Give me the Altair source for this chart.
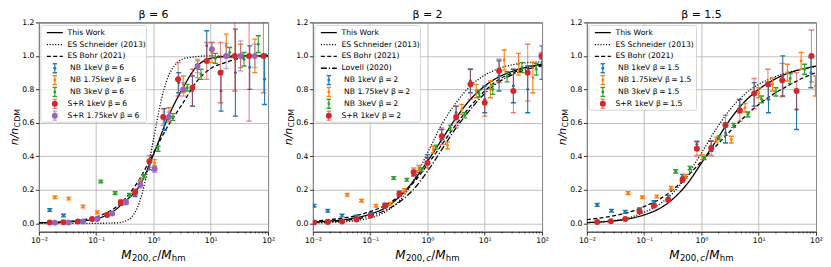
import altair as alt
import pandas as pd

FONT = "DejaVu Sans"
W, H = 230, 210

panel_titles = ["β = 6", "β = 2", "β = 1.5"]
panel_betas = ["6", "2", "1.5"]

curve_names = ["This Work", "ES Schneider (2013)", "ES Bohr (2021)", "Lovell (2020)"]
curve_dashes = [[1, 0], [1.1, 1.7], [4, 2.4], [6, 2, 1.2, 2]]

series_names = ["NB 1keV", "NB 1.75keV", "NB 3keV", "S+R 1keV", "S+R 1.75keV"]
series_colors = ["#1f77b4", "#ff7f0e", "#2ca02c", "#d62728", "#9467bd"]

x_ticks = [0.01, 0.1, 1, 10, 100]
x_tick_labels = ["10⁻²", "10⁻¹", "10⁰", "10¹", "10²"]
minor_mult = [2, 3, 4, 5, 6, 7, 8, 9]
minor_decades = [-2, -1, 0, 1]
y_ticks = [0.0, 0.2, 0.4, 0.6, 0.8, 1.0, 1.2]

# ---------------- model curves (log10 M/Mhm, n/nCDM) ----------------
curve_logx = [-2, -1.75, -1.5, -1.25, -1, -0.75, -0.5, -0.25, 0, 0.25, 0.5, 0.75, 1, 1.25, 1.5, 1.75, 2]

b6_this = [0.003, 0.005, 0.008, 0.014, 0.027, 0.06, 0.13, 0.22, 0.41, 0.63, 0.80, 0.935, 0.985, 0.996, 0.999, 1.0, 1.0]
b6_schn_logx = [-2, -1, -0.75, -0.625, -0.5, -0.375, -0.25, -0.125, 0, 0.125, 0.25, 0.375, 0.5, 0.625, 0.75, 1, 1.5, 2]
b6_schn = [0.0, 0.0, 0.001, 0.003, 0.012, 0.04, 0.12, 0.28, 0.50, 0.72, 0.87, 0.945, 0.98, 0.99, 0.996, 1.0, 1.0, 1.0]
b6_bohr = [0.003, 0.006, 0.011, 0.02, 0.038, 0.075, 0.145, 0.26, 0.42, 0.58, 0.71, 0.845, 0.925, 0.96, 0.985, 0.995, 1.0]

b2_this = [0.007, 0.012, 0.02, 0.033, 0.055, 0.09, 0.155, 0.25, 0.37, 0.50, 0.63, 0.74, 0.82, 0.875, 0.91, 0.935, 0.95]
b2_schn = [0.002, 0.004, 0.008, 0.016, 0.032, 0.065, 0.13, 0.25, 0.42, 0.59, 0.72, 0.82, 0.885, 0.925, 0.948, 0.96, 0.965]
b2_bohr = [0.012, 0.02, 0.03, 0.045, 0.07, 0.105, 0.16, 0.24, 0.35, 0.47, 0.59, 0.70, 0.79, 0.86, 0.90, 0.93, 0.945]
b2_lov = [0.005, 0.009, 0.015, 0.025, 0.045, 0.075, 0.125, 0.20, 0.31, 0.44, 0.57, 0.68, 0.775, 0.845, 0.89, 0.92, 0.94]

b15_this = [0.004, 0.008, 0.015, 0.028, 0.05, 0.085, 0.145, 0.235, 0.36, 0.49, 0.62, 0.725, 0.80, 0.855, 0.895, 0.92, 0.94]
b15_schn = [0.004, 0.009, 0.018, 0.035, 0.065, 0.11, 0.18, 0.285, 0.42, 0.56, 0.68, 0.77, 0.83, 0.87, 0.90, 0.92, 0.935]
b15_bohr = [0.022, 0.032, 0.047, 0.068, 0.10, 0.14, 0.20, 0.28, 0.37, 0.46, 0.55, 0.635, 0.71, 0.77, 0.82, 0.865, 0.90]

# ---------------- simulation data: log10 x, value, error ----------------
b6_nb1_x = [-1.81, -1.57, -1.32, -1.07, -0.81, -0.57, -0.32, -0.07, 0.19, 0.44, 0.68, 0.93, 1.18, 1.43, 1.68, 1.94]
b6_nb1_y = [0.079, 0.046, 0.012, 0.022, 0.05, 0.12, 0.175, 0.35, 0.62, 0.84, 0.79, 1.06, 0.79, 0.90, 0.93, 0.86]
b6_nb1_e = [0.008, 0.008, 0.005, 0.006, 0.008, 0.012, 0.015, 0.03, 0.065, 0.06, 0.09, 0.09, 0.12, 0.26, 0.13, 0.15]
b6_nb175_x = [-1.72, -1.48, -1.23, -0.98, -0.73, -0.48, -0.23, 0.02, 0.27, 0.52, 0.77, 1.02, 1.27, 1.52, 1.77]
b6_nb175_y = [0.155, 0.148, 0.10, 0.065, 0.06, 0.13, 0.245, 0.36, 0.65, 0.83, 0.92, 1.02, 1.06, 1.0, 1.0]
b6_nb175_e = [0.008, 0.008, 0.008, 0.008, 0.008, 0.01, 0.015, 0.02, 0.04, 0.05, 0.05, 0.06, 0.07, 0.07, 0.1]
b6_nb3_x = [-0.92, -0.67, -0.42, -0.17, 0.08, 0.34, 0.59, 0.83, 1.08, 1.33, 1.58, 1.83]
b6_nb3_y = [0.25, 0.18, 0.17, 0.28, 0.445, 0.635, 0.81, 0.89, 0.985, 1.02, 0.98, 1.07]
b6_nb3_e = [0.008, 0.008, 0.008, 0.01, 0.015, 0.02, 0.02, 0.03, 0.03, 0.03, 0.04, 0.05]
b6_sr1_x = [-1.81, -1.57, -1.32, -1.07, -0.81, -0.57, -0.32, -0.07, 0.17, 0.43, 0.68, 0.93, 1.17, 1.42, 1.67, 1.92]
b6_sr1_y = [0.005, 0.006, 0.01, 0.025, 0.05, 0.125, 0.185, 0.37, 0.635, 0.86, 0.81, 0.97, 0.90, 1.0, 1.0, 1.0]
b6_sr1_e = [0.003, 0.003, 0.004, 0.006, 0.008, 0.015, 0.02, 0.035, 0.05, 0.1, 0.11, 0.11, 0.18, 0.21, 0.39, 0.22]
b6_sr175_x = [-1.72, -1.48, -1.23, -0.98, -0.72, -0.48, -0.23, 0.02, 0.27, 0.52, 0.77, 1.02, 1.27, 1.52, 1.77]
b6_sr175_y = [0.003, 0.005, 0.01, 0.025, 0.058, 0.125, 0.23, 0.325, 0.635, 0.80, 0.94, 1.04, 1.0, 1.0, 1.0]
b6_sr175_e = [0.002, 0.002, 0.003, 0.005, 0.008, 0.015, 0.02, 0.02, 0.03, 0.04, 0.04, 0.04, 0.075, 0.09, 0.07]

b2_nb1_x = [-1.98, -1.74, -1.49, -1.24, -0.99, -0.74, -0.49, -0.24, 0.0, 0.25, 0.5, 0.75, 1.0, 1.25, 1.5, 1.75, 2.0]
b2_nb1_y = [0.105, 0.075, 0.046, 0.04, 0.055, 0.11, 0.18, 0.30, 0.39, 0.53, 0.66, 0.85, 0.74, 0.88, 0.82, 0.80, 0.96]
b2_nb1_e = [0.008, 0.008, 0.008, 0.008, 0.008, 0.01, 0.012, 0.015, 0.02, 0.03, 0.04, 0.07, 0.08, 0.09, 0.1, 0.14, 0.1]
b2_nb175_x = [-1.40, -1.15, -0.90, -0.65, -0.40, -0.15, 0.10, 0.35, 0.60, 0.85, 1.10, 1.34, 1.59, 1.84]
b2_nb175_y = [0.17, 0.135, 0.105, 0.117, 0.196, 0.33, 0.44, 0.465, 0.68, 0.79, 0.80, 0.975, 0.95, 0.87]
b2_nb175_e = [0.008, 0.008, 0.008, 0.008, 0.01, 0.015, 0.02, 0.02, 0.03, 0.04, 0.05, 0.06, 0.065, 0.09]
b2_nb3_x = [-0.59, -0.36, -0.10, 0.15, 0.40, 0.65, 0.90, 1.14, 1.39, 1.65, 1.90]
b2_nb3_y = [0.27, 0.26, 0.32, 0.455, 0.57, 0.645, 0.775, 0.80, 0.875, 0.93, 0.92]
b2_nb3_e = [0.008, 0.008, 0.01, 0.012, 0.015, 0.015, 0.02, 0.03, 0.03, 0.03, 0.035]
b2_sr1_x = [-1.98, -1.74, -1.49, -1.24, -0.99, -0.74, -0.49, -0.24, 0.0, 0.25, 0.5, 0.75, 1.0, 1.25, 1.5, 1.75, 1.99]
b2_sr1_y = [0.005, 0.008, 0.01, 0.022, 0.047, 0.105, 0.175, 0.305, 0.36, 0.52, 0.635, 0.83, 0.72, 0.91, 0.79, 0.90, 1.0]
b2_sr1_e = [0.003, 0.003, 0.004, 0.005, 0.008, 0.012, 0.015, 0.025, 0.03, 0.05, 0.065, 0.09, 0.08, 0.07, 0.13, 0.17, 0.02]

b15_nb1_x = [-1.82, -1.57, -1.33, -1.08, -0.83, -0.58, -0.33, -0.08, 0.17, 0.42, 0.67, 0.92, 1.17, 1.42, 1.66, 1.91]
b15_nb1_y = [0.11, 0.075, 0.068, 0.083, 0.125, 0.155, 0.28, 0.47, 0.46, 0.54, 0.70, 0.77, 0.74, 0.88, 0.68, 0.90]
b15_nb1_e = [0.008, 0.008, 0.008, 0.008, 0.01, 0.012, 0.012, 0.02, 0.03, 0.06, 0.04, 0.07, 0.08, 0.12, 0.12, 0.09]
b15_nb175_x = [-1.28, -1.03, -0.78, -0.53, -0.28, 0.02, 0.26, 0.52, 0.76, 1.0, 1.24, 1.50, 1.74, 1.99]
b15_nb175_y = [0.18, 0.155, 0.16, 0.21, 0.28, 0.395, 0.50, 0.50, 0.69, 0.78, 0.83, 0.90, 0.97, 0.82]
b15_nb175_e = [0.008, 0.008, 0.008, 0.01, 0.012, 0.015, 0.015, 0.02, 0.025, 0.03, 0.04, 0.05, 0.05, 0.06]
b15_nb3_x = [-0.45, -0.20, 0.05, 0.31, 0.56, 0.81, 1.05, 1.30, 1.55, 1.80]
b15_nb3_y = [0.31, 0.33, 0.39, 0.51, 0.585, 0.65, 0.74, 0.785, 0.865, 0.92]
b15_nb3_e = [0.01, 0.01, 0.01, 0.012, 0.012, 0.015, 0.02, 0.025, 0.03, 0.03]
b15_sr1_x = [-1.82, -1.58, -1.33, -1.08, -0.83, -0.58, -0.33, -0.08, 0.17, 0.42, 0.67, 0.92, 1.16, 1.41, 1.66, 1.92]
b15_sr1_y = [0.008, 0.012, 0.025, 0.07, 0.105, 0.14, 0.26, 0.445, 0.45, 0.585, 0.675, 0.775, 0.83, 0.855, 0.79, 1.0]
b15_sr1_e = [0.004, 0.004, 0.005, 0.007, 0.008, 0.01, 0.015, 0.04, 0.045, 0.06, 0.065, 0.09, 0.09, 0.1, 0.11, 0.155]

panels = [
    {
        "curves": [("This Work", curve_logx, b6_this), ("ES Schneider (2013)", b6_schn_logx, b6_schn),
                   ("ES Bohr (2021)", curve_logx, b6_bohr)],
        "series": [("NB 1keV", b6_nb1_x, b6_nb1_y, b6_nb1_e), ("NB 1.75keV", b6_nb175_x, b6_nb175_y, b6_nb175_e),
                   ("NB 3keV", b6_nb3_x, b6_nb3_y, b6_nb3_e), ("S+R 1keV", b6_sr1_x, b6_sr1_y, b6_sr1_e),
                   ("S+R 1.75keV", b6_sr175_x, b6_sr175_y, b6_sr175_e)],
        "box_right": 108,
    },
    {
        "curves": [("This Work", curve_logx, b2_this), ("ES Schneider (2013)", curve_logx, b2_schn),
                   ("ES Bohr (2021)", curve_logx, b2_bohr), ("Lovell (2020)", curve_logx, b2_lov)],
        "series": [("NB 1keV", b2_nb1_x, b2_nb1_y, b2_nb1_e), ("NB 1.75keV", b2_nb175_x, b2_nb175_y, b2_nb175_e),
                   ("NB 3keV", b2_nb3_x, b2_nb3_y, b2_nb3_e), ("S+R 1keV", b2_sr1_x, b2_sr1_y, b2_sr1_e)],
        "box_right": 108,
    },
    {
        "curves": [("This Work", curve_logx, b15_this), ("ES Schneider (2013)", curve_logx, b15_schn),
                   ("ES Bohr (2021)", curve_logx, b15_bohr)],
        "series": [("NB 1keV", b15_nb1_x, b15_nb1_y, b15_nb1_e), ("NB 1.75keV", b15_nb175_x, b15_nb175_y, b15_nb175_e),
                   ("NB 3keV", b15_nb3_x, b15_nb3_y, b15_nb3_e), ("S+R 1keV", b15_sr1_x, b15_sr1_y, b15_sr1_e)],
        "box_right": 110,
    },
]

xs = alt.Scale(type="log", domain=[0.01, 100])
ys = alt.Scale(domain=[-0.05, 1.2], nice=False, zero=False)
dash_scale = alt.Scale(domain=curve_names, range=curve_dashes)
label_expr = "[" + ",".join("'%s'" % t for t in x_tick_labels) + "][round(log(datum.value)/LN10)+2]"
minor_ticks = [m * 10.0 ** k for k in minor_decades for m in minor_mult]
color_of = dict(zip(series_names, series_colors))
dash_of = dict(zip(curve_names, curve_dashes))
THIN = "\u2009"
SR_SIZE, NB_SIZE = 36, 9

AX = alt.Axis(values=x_ticks, labelExpr=label_expr, title=None, grid=True)
AY = alt.Axis(values=y_ticks, format=".1f", title=None, grid=True)


def XE(f="M"):
    return alt.X(f + ":Q", scale=xs, axis=AX)


def YE(f="n"):
    return alt.Y(f + ":Q", scale=ys, axis=AY)


def one(txt):
    return pd.DataFrame({"t": [txt]})


def text_layer(txt, x, y, size, italic=False, angle=None, align="left", baseline="alphabetic"):
    kw = dict(font=FONT, fontSize=size, align=align, baseline=baseline, color="black")
    if italic:
        kw["fontStyle"] = "italic"
    if angle is not None:
        kw["angle"] = angle
    return alt.Chart(one(txt)).mark_text(**kw).encode(x=alt.value(x), y=alt.value(y), text="t:N")


def make_panel(p, title, beta):
    layers = []

    # curves
    rows = []
    for name, lx, yv in p["curves"]:
        for a, b in zip(lx, yv):
            rows.append({"M": 10.0 ** a, "n": b, "curve": name})
    cdf = pd.DataFrame(rows)
    layers.append(alt.Chart(cdf).mark_line(color="black", strokeWidth=1.3, clip=True, interpolate="monotone").encode(
        x=XE(), y=YE(),
        strokeDash=alt.StrokeDash("curve:N", scale=dash_scale, legend=None),
        detail="curve:N",
    ))

    # minor ticks on the log axis
    layers.append(alt.Chart(pd.DataFrame({"M": minor_ticks})).mark_rule(color="black", strokeWidth=0.6).encode(
        x=XE(), y=alt.value(H), y2=alt.value(H + 2)))

    # data with error bars
    for name, lx, yv, ev in p["series"]:
        df = pd.DataFrame({"M": [10.0 ** a for a in lx], "n": yv,
                           "lo": [a - e for a, e in zip(yv, ev)], "hi": [a + e for a, e in zip(yv, ev)]})
        sr = name.startswith("S+R")
        c = color_of[name]
        op = 0.55 if sr else 1.0
        base = alt.Chart(df)
        layers.append(base.mark_rule(color=c, strokeWidth=1.1, opacity=op, clip=True).encode(
            x=XE(), y=YE("lo"), y2="hi:Q"))
        for f in ["lo", "hi"]:
            layers.append(base.mark_tick(color=c, orient="horizontal", size=5.5 if sr else 5, thickness=1.4,
                                         opacity=op, clip=True).encode(x=XE(), y=YE(f)))
        layers.append(base.mark_circle(color=c, size=SR_SIZE if sr else NB_SIZE, opacity=1, clip=True).encode(
            x=XE(), y=YE("n")))

    # legend (pixel layout)
    n_entries = len(p["curves"]) + len(p["series"])
    py = [10.3 + 11.9 * i for i in range(n_entries)]
    layers.append(alt.Chart(one("box")).mark_rect(
        fill="white", fillOpacity=0.8, stroke="#cccccc", strokeWidth=0.8, cornerRadius=2).encode(
        x=alt.value(2), x2=alt.value(p["box_right"]), y=alt.value(3), y2=alt.value(py[-1] + 6.5)))
    i = 0
    for name, _, _ in p["curves"]:
        layers.append(alt.Chart(one(name)).mark_rule(color="black", strokeWidth=1.3, strokeDash=dash_of[name]).encode(
            x=alt.value(8), x2=alt.value(24), y=alt.value(py[i])))
        layers.append(text_layer(name, 28.7, py[i], 7.7, baseline="middle"))
        i += 1
    for name, _, _, _ in p["series"]:
        sr = name.startswith("S+R")
        c = color_of[name]
        op = 0.55 if sr else 1.0
        layers.append(alt.Chart(one(name)).mark_rule(color=c, strokeWidth=1.1, opacity=op).encode(
            x=alt.value(16), y=alt.value(py[i] - 4.5), y2=alt.value(py[i] + 4.5)))
        for d in (-4.5, 4.5):
            layers.append(alt.Chart(one(name)).mark_tick(color=c, orient="horizontal", size=4.5, thickness=1.4,
                                                         opacity=op).encode(
                x=alt.value(16), y=alt.value(py[i] + d)))
        layers.append(alt.Chart(one(name)).mark_circle(color=c, size=SR_SIZE if sr else NB_SIZE, opacity=1).encode(
            x=alt.value(16), y=alt.value(py[i])))
        label = name + " β" + THIN + "=" + THIN + beta
        layers.append(text_layer(label, 28.7 + (0 if sr else 2.5), py[i], 7.7, baseline="middle"))
        i += 1

    # panel title
    layers.append(text_layer(title, W / 2, -4, 11, align="center"))

    # y title  n/n_CDM (rotated)
    S, s = 11, 8
    w_main = 1.605 * S
    w_sub = 2.331 * s
    y0 = H / 2 + (w_main + 0.3 + w_sub) / 2
    layers.append(text_layer("n/n", -21, y0, S, italic=True, angle=270))
    layers.append(text_layer("CDM", -18.8, y0 - w_main - 0.3, s, angle=270))

    # x title  M_{200,c}/M_hm
    S, s = 12, 8.6
    pieces = [("M", True, S, 0.0, 0.3), ("200,", False, s, 2.6, 1.2), ("c", True, s, 2.6, 0.3),
              ("/", False, S, 0.0, 0.0), ("M", True, S, 0.0, 0.3), ("hm", False, s, 2.6, 0.0)]
    adv = {"M": 0.863, "200,": 2.226, "c": 0.55, "/": 0.337, "hm": 1.608}
    total = sum(adv[t] * sz + g for t, _, sz, _, g in pieces)
    xx = W / 2 - total / 2
    yb = H + 27
    for t, it, sz, dy, g in pieces:
        layers.append(text_layer(t, xx, yb + dy, sz, italic=it))
        xx += adv[t] * sz + g

    return alt.layer(*layers).properties(width=W, height=H)


charts = [make_panel(p, t, b) for p, t, b in zip(panels, panel_titles, panel_betas)]

chart = alt.hconcat(*charts, spacing=45, bounds="flush").properties(padding=0).configure_view(
    stroke="black", strokeWidth=1
).configure_axis(
    labelFont=FONT, labelFontSize=7.7, labelColor="black", tickColor="black", tickSize=3.5, tickWidth=0.8,
    domain=False, gridColor="#b0b0b0", gridWidth=0.8, labelPadding=1.5, labelFlush=False, labelOverlap=False
)

chart.save("out.html", embed_options={"renderer": "svg", "actions": False})
